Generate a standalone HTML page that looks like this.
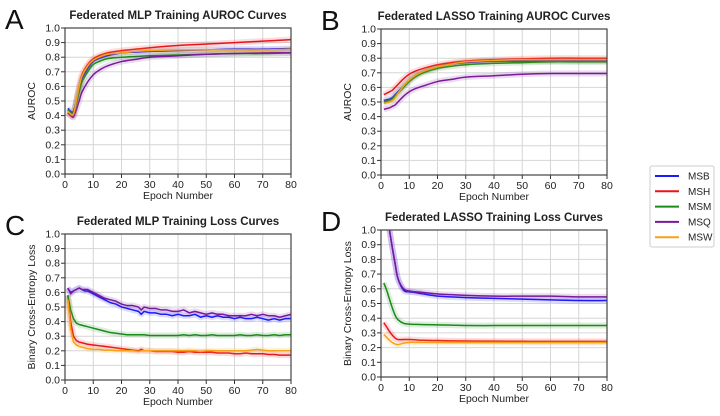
<!DOCTYPE html>
<html><head><meta charset="utf-8"><style>
body{margin:0;background:#fff;width:720px;height:411px;overflow:hidden;font-family:"Liberation Sans",Arial,sans-serif}
svg text{font-family:"Liberation Sans",Arial,sans-serif}
</style></head><body>
<svg id="fig" width="720" height="411" viewBox="0 0 720 411" xmlns="http://www.w3.org/2000/svg"></svg>
<script>
const seriesNames = ["MSB","MSH","MSM","MSQ","MSW"];
const seriesColors = ["#1a1aff","#e8141c","#1a8a1a","#7a1a9a","#f5a21a"];
const xTicks = [0,10,20,30,40,50,60,70,80];
const yTicks = [0,0.1,0.2,0.3,0.4,0.5,0.6,0.7,0.8,0.9,1.0];
const epochsSmooth = [1,2,3,4,5,6,8,10,12,15,20,25,30,40,50,60,70,80];
const epochsNoisy = [1,2,3,4,5,6,7,8,10,12,14,16,18,20,22,24,26,27,28,30,32,34,36,38,40,42,44,46,48,50,52,54,56,58,60,62,64,66,68,70,72,74,76,78,80];
// Panel A
const aMSB = [.45,.43,.43,.50,.58,.65,.72,.77,.79,.81,.83,.835,.84,.845,.85,.855,.855,.86];
const aMSH = [.42,.40,.40,.50,.60,.68,.75,.79,.81,.83,.845,.855,.865,.88,.89,.90,.91,.92];
const aMSM = [.44,.42,.42,.48,.56,.63,.70,.75,.77,.79,.80,.805,.81,.815,.82,.825,.825,.83];
const aMSQ = [.42,.40,.39,.44,.50,.56,.63,.68,.71,.74,.77,.785,.80,.81,.82,.825,.83,.83];
const aMSW = [.43,.41,.41,.50,.60,.67,.74,.78,.80,.82,.83,.84,.845,.85,.85,.85,.85,.855];
// Panel B
const bMSB = [.51,.515,.52,.53,.55,.57,.61,.65,.68,.71,.74,.76,.77,.78,.78,.78,.78,.78];
const bMSH = [.55,.56,.57,.58,.60,.62,.66,.69,.71,.73,.755,.77,.78,.79,.795,.80,.80,.80];
const bMSM = [.50,.505,.51,.52,.54,.56,.60,.64,.67,.70,.73,.745,.755,.765,.77,.775,.775,.775];
const bMSQ = [.45,.455,.46,.47,.48,.50,.54,.57,.59,.61,.64,.655,.67,.68,.69,.695,.695,.695];
const bMSW = [.49,.495,.50,.51,.53,.56,.61,.65,.68,.71,.74,.76,.775,.785,.79,.79,.79,.79];
// Panel C
const cMSB = [.63,.60,.61,.62,.63,.62,.61,.61,.59,.57,.55,.53,.52,.50,.49,.48,.47,.45,.47,.46,.46,.45,.45,.44,.45,.44,.44,.45,.43,.44,.43,.44,.43,.43,.42,.43,.42,.42,.43,.42,.41,.42,.41,.42,.42];
const cMSH = [.58,.40,.30,.27,.26,.255,.25,.245,.24,.235,.23,.225,.22,.215,.21,.205,.20,.21,.20,.20,.195,.195,.195,.195,.19,.19,.195,.19,.19,.19,.19,.185,.185,.185,.18,.18,.185,.18,.18,.18,.175,.175,.17,.17,.17];
const cMSM = [.58,.48,.42,.39,.38,.375,.37,.365,.355,.345,.335,.325,.32,.315,.31,.31,.31,.31,.31,.305,.305,.305,.305,.305,.305,.31,.305,.31,.305,.305,.31,.305,.305,.305,.305,.31,.305,.305,.31,.305,.305,.31,.305,.31,.31];
const cMSQ = [.63,.59,.61,.62,.63,.62,.62,.62,.60,.58,.56,.55,.54,.52,.51,.51,.50,.48,.50,.49,.49,.48,.48,.47,.47,.48,.46,.47,.46,.45,.46,.45,.45,.44,.44,.44,.44,.45,.44,.45,.44,.44,.43,.44,.45];
const cMSW = [.55,.35,.26,.24,.23,.225,.22,.215,.21,.21,.205,.205,.2,.2,.2,.2,.195,.2,.2,.2,.2,.2,.2,.2,.2,.2,.2,.2,.195,.2,.2,.2,.2,.2,.2,.2,.2,.205,.21,.205,.2,.2,.2,.2,.2];
// Panel D
const dMSB = [1.25,1.12,1.0,.88,.77,.67,.59,.58,.575,.565,.55,.545,.54,.535,.53,.525,.52,.52];
const dMSH = [.37,.34,.31,.285,.265,.255,.255,.255,.253,.25,.248,.246,.245,.244,.243,.242,.242,.242];
const dMSM = [.64,.59,.53,.47,.42,.39,.365,.36,.358,.356,.355,.353,.35,.35,.35,.35,.35,.35];
const dMSQ = [1.25,1.12,1.0,.88,.77,.67,.60,.585,.58,.575,.565,.56,.555,.55,.55,.55,.545,.545];
const dMSW = [.29,.27,.25,.235,.225,.22,.23,.235,.235,.235,.235,.235,.235,.235,.235,.235,.235,.235];

const NS="http://www.w3.org/2000/svg";
const svg=document.getElementById('fig');
function el(tag,attrs,parent,text){const e=document.createElementNS(NS,tag);for(const k in attrs)e.setAttribute(k,attrs[k]);if(text!==undefined)e.textContent=text;(parent||svg).appendChild(e);return e;}

function panel(id,letter,title,ylabel,box,epochs,series,smooth,band){
  const [x0,x1,yTop,yBot]=box;
  const xs=v=>x0+(v/80)*(x1-x0);
  const ys=v=>yBot-v*(yBot-yTop);
  const g=el('g',{},svg);
  
  
  const L=el('text',{x:x0-60,y:yTop+1,'font-size':28,fill:'#111'},g,letter);
  
  const T=el('text',{x:(x0+x1)/2,y:yTop-9,'font-size':11.5,'font-weight':'bold','text-anchor':'middle',fill:'#222'},g,title);
  
  // grid
  xTicks.forEach(t=>{const l=el('line',{x1:xs(t),x2:xs(t),y1:yTop,y2:yBot,stroke:'#d6d6d6','stroke-width':1},g);});
  yTicks.forEach(t=>{const l=el('line',{x1:x0,x2:x1,y1:ys(t),y2:ys(t),stroke:'#d6d6d6','stroke-width':1},g);});
  const cp=el('clipPath',{id:'clip'+id},g);el('rect',{x:x0,y:yTop,width:x1-x0,height:yBot-yTop},cp);
  const sg=el('g',{'clip-path':'url(#clip'+id+')'},g);
  series.forEach((vals,i)=>{
    const pts=epochs.map((e,j)=>[xs(e),ys(vals[j])]);
    let d;
    if(smooth){
      d='M'+pts[0][0]+','+pts[0][1];
      for(let j=0;j<pts.length-1;j++){
        const p0=pts[Math.max(0,j-1)],p1=pts[j],p2=pts[j+1],p3=pts[Math.min(pts.length-1,j+2)];
        const c1=[p1[0]+(p2[0]-p0[0])/6,p1[1]+(p2[1]-p0[1])/6],c2=[p2[0]-(p3[0]-p1[0])/6,p2[1]-(p3[1]-p1[1])/6];
        d+=' C'+c1+' '+c2+' '+p2;
      }
    } else d='M'+pts.map(p=>p.join(',')).join(' L');
    const b=el('path',{d:d,fill:'none',stroke:seriesColors[i],'stroke-width':band,'stroke-opacity':0.15,'stroke-linejoin':'round'},sg);
    
    const p=el('path',{d:d,fill:'none',stroke:seriesColors[i],'stroke-width':1.5,'stroke-linejoin':'round'},sg);
    
  });
  // frame
  el('rect',{x:x0,y:yTop,width:x1-x0,height:yBot-yTop,fill:'none',stroke:'#444','stroke-width':1.2},g);
  xTicks.forEach(t=>{
    el('line',{x1:xs(t),x2:xs(t),y1:yBot,y2:yBot+4,stroke:'#333'},g);
    const tx=el('text',{x:xs(t),y:yBot+14,'font-size':10.5,'text-anchor':'middle',fill:'#222'},g,String(t));
    
  });
  yTicks.forEach(t=>{
    el('line',{x1:x0-4,x2:x0,y1:ys(t),y2:ys(t),stroke:'#333'},g);
    const tx=el('text',{x:x0-5,y:ys(t)+3.5,'font-size':10.5,'text-anchor':'end',fill:'#222'},g,t.toFixed(1));
    
  });
  const xl=el('text',{x:(x0+x1)/2,y:yBot+25,'font-size':10.5,'text-anchor':'middle',fill:'#222'},g,'Epoch Number');
  
  const yc=(yTop+yBot)/2,yx=x0-30;
  const yl=el('text',{x:yx,y:yc,'font-size':10.5,'text-anchor':'middle',fill:'#222',transform:'rotate(-90 '+yx+' '+yc+')'},g,ylabel);
  
}
panel('a','A','Federated MLP Training AUROC Curves','AUROC',[65,291,28,174],epochsSmooth,[aMSB,aMSH,aMSM,aMSQ,aMSW],true,6);
panel('b','B','Federated LASSO Training AUROC Curves','AUROC',[381,607,29,175],epochsSmooth,[bMSB,bMSH,bMSM,bMSQ,bMSW],true,6);
panel('c','C','Federated MLP Training Loss Curves','Binary Cross-Entropy Loss',[65,291,234,380],epochsNoisy,[cMSB,cMSH,cMSM,cMSQ,cMSW],false,6);
panel('d','D','Federated LASSO Training Loss Curves','Binary Cross-Entropy Loss',[381,607,230,377],epochsSmooth,[dMSB,dMSH,dMSM,dMSQ,dMSW],true,6);

const lg=el('g',{},svg);


el('rect',{x:650,y:166,width:64,height:81,rx:2,fill:'#fff',stroke:'#ccc'},lg);
seriesNames.forEach((n,i)=>{
  const y=176+i*15.3;
  const e=el('g',{},lg);
  
  
  el('line',{x1:655,x2:679,y1:y,y2:y,stroke:seriesColors[i],'stroke-width':2},e);
  el('text',{x:688,y:y+3.5,'font-size':10,fill:'#222'},e,n);
});
</script>
</body></html>
